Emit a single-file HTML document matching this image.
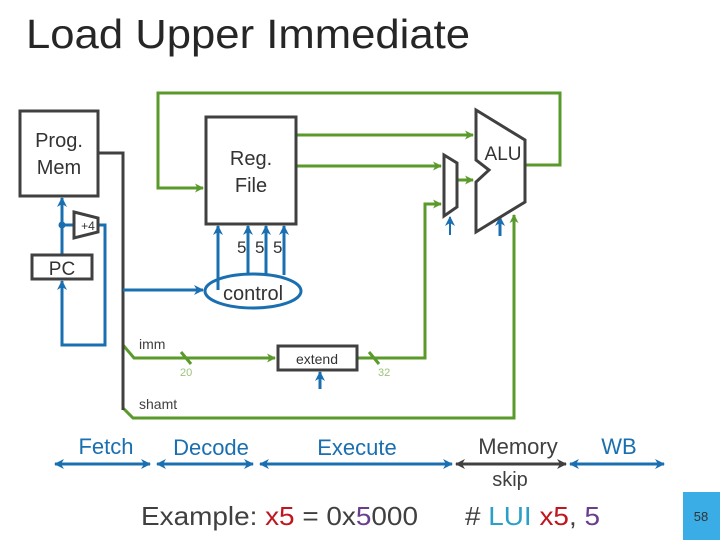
<!DOCTYPE html>
<html><head><meta charset="utf-8"><style>
html,body{margin:0;padding:0;background:#fff;}
svg{display:block;}
text{font-family:"Liberation Sans",Arial,sans-serif;}
</style></head><body>
<svg width="720" height="540" viewBox="0 0 720 540" xmlns="http://www.w3.org/2000/svg" font-family="Liberation Sans, Arial, sans-serif">
<defs>
<marker id="ga" markerWidth="9" markerHeight="9" refX="8" refY="4.5" orient="auto" markerUnits="userSpaceOnUse"><path d="M0,0 L9,4.5 L0,9 L2.5,4.5z" fill="#5a9a2a"/></marker>
<marker id="ba" markerWidth="10" markerHeight="10" refX="9" refY="5" orient="auto" markerUnits="userSpaceOnUse"><path d="M0,0 L10,5 L0,10 L3,5z" fill="#1a6fb0"/></marker>
<marker id="bs" markerWidth="10" markerHeight="10" refX="9" refY="5" orient="auto-start-reverse" markerUnits="userSpaceOnUse"><path d="M0,0 L10,5 L0,10 L3,5z" fill="#1a6fb0"/></marker>
<marker id="ds" markerWidth="10" markerHeight="10" refX="9" refY="5" orient="auto-start-reverse" markerUnits="userSpaceOnUse"><path d="M0,0 L10,5 L0,10 L3,5z" fill="#404040"/></marker>
</defs>
<text x="26" y="48" font-size="41" fill="#262626" textLength="444" lengthAdjust="spacingAndGlyphs">Load Upper Immediate</text>

<g stroke="#5a9a2a" stroke-width="3" fill="none">
<polyline points="525,165 560,165 560,93 158,93 158,188 203,188" marker-end="url(#ga)"/>
<polyline points="297,135 473,135" marker-end="url(#ga)"/>
<polyline points="297,166 441,166" marker-end="url(#ga)"/>
<polyline points="457,180 473,180" marker-end="url(#ga)"/>
<polyline points="357,358 425,358 425,204 441,204" marker-end="url(#ga)"/>
<polyline points="123,345 134,358 275,358" marker-end="url(#ga)"/>
<polyline points="123,408 133,418 514,418 514,215" marker-end="url(#ga)"/>
<line x1="181" y1="352" x2="191" y2="364"/>
<line x1="369" y1="352" x2="379" y2="364"/>
</g>
<text x="180" y="376" font-size="11" fill="#9cc27a">20</text>
<text x="378" y="376" font-size="11" fill="#9cc27a">32</text>
<text x="139" y="349" font-size="14" fill="#404040">imm</text>
<text x="139" y="409" font-size="14" fill="#404040">shamt</text>

<polyline points="99,153 123,153 123,410" stroke="#404040" stroke-width="3" fill="none"/>

<g stroke="#1a6fb0" stroke-width="3" fill="none">
<polyline points="62,255 62,198" marker-end="url(#ba)"/>
<line x1="62" y1="225" x2="74" y2="225"/>
<polyline points="98,225 105,225 105,345 62,345 62,281" marker-end="url(#ba)"/>
<polyline points="123,290 203,290" marker-end="url(#ba)"/>
<line x1="218" y1="290" x2="218" y2="226" marker-end="url(#ba)"/>
<line x1="248" y1="275" x2="248" y2="226" marker-end="url(#ba)"/>
<line x1="266" y1="275" x2="266" y2="226" marker-end="url(#ba)"/>
<line x1="284" y1="275" x2="284" y2="226" marker-end="url(#ba)"/>
<ellipse cx="253" cy="291" rx="48" ry="17"/>
<line x1="320" y1="389" x2="320" y2="372" marker-end="url(#ba)"/>
<line x1="450" y1="235" x2="450" y2="217" stroke-width="2" marker-end="url(#ba)"/>
<line x1="500" y1="236" x2="500" y2="217" marker-end="url(#ba)"/>
</g>
<circle cx="62" cy="225" r="3.5" fill="#1a6fb0"/>
<text x="253" y="300" font-size="20" fill="#333" text-anchor="middle">control</text>
<text x="237" y="253" font-size="17" fill="#333">5</text>
<text x="255" y="253" font-size="17" fill="#333">5</text>
<text x="273" y="253" font-size="17" fill="#333">5</text>

<g stroke="#404040" stroke-width="3" fill="#fff">
<rect x="20" y="111" width="78" height="85"/>
<rect x="206" y="117" width="90" height="107"/>
<rect x="32" y="255" width="60" height="24"/>
<rect x="278" y="346" width="79" height="24"/>
<polygon points="74,212 98,218 98,232 74,238"/>
<polygon points="444,155 457,163 457,207 444,216"/>
<polygon points="476,110 525,140 525,202 476,232 476,182 489,170 476,160"/>
</g>
<text x="59" y="147" font-size="20" fill="#333" text-anchor="middle">Prog.</text>
<text x="59" y="174" font-size="20" fill="#333" text-anchor="middle">Mem</text>
<text x="251" y="165" font-size="20" fill="#333" text-anchor="middle">Reg.</text>
<text x="251" y="192" font-size="20" fill="#333" text-anchor="middle">File</text>
<text x="62" y="275" font-size="19" fill="#333" text-anchor="middle">PC</text>
<text x="88" y="230" font-size="12" fill="#333" text-anchor="middle">+4</text>
<text x="317" y="364" font-size="14" fill="#333" text-anchor="middle">extend</text>
<text x="503" y="160" font-size="19" fill="#333" text-anchor="middle">ALU</text>

<g stroke-width="3">
<line x1="55" y1="464" x2="150" y2="464" stroke="#1a6fb0" marker-start="url(#bs)" marker-end="url(#bs)"/>
<line x1="157" y1="464" x2="253" y2="464" stroke="#1a6fb0" marker-start="url(#bs)" marker-end="url(#bs)"/>
<line x1="260" y1="464" x2="452" y2="464" stroke="#1a6fb0" marker-start="url(#bs)" marker-end="url(#bs)"/>
<line x1="456" y1="464" x2="566" y2="464" stroke="#404040" marker-start="url(#ds)" marker-end="url(#ds)"/>
<line x1="570" y1="464" x2="664" y2="464" stroke="#1a6fb0" marker-start="url(#bs)" marker-end="url(#bs)"/>
</g>
<g fill="#1a6fb0">
<text x="106" y="454" text-anchor="middle" font-size="22">Fetch</text>
<text x="211" y="455" text-anchor="middle" font-size="22">Decode</text>
<text x="357" y="455" text-anchor="middle" font-size="22">Execute</text>
<text x="518" y="454" text-anchor="middle" font-size="22" fill="#404040">Memory</text>
<text x="619" y="454" text-anchor="middle" font-size="22">WB</text>
<text x="510" y="486" text-anchor="middle" font-size="20" fill="#404040">skip</text>
</g>
<text x="141" y="525" font-size="26" fill="#404040" textLength="277" lengthAdjust="spacingAndGlyphs">Example: <tspan fill="#c0161e">x5</tspan> = 0x<tspan fill="#6a3d8e">5</tspan>000</text>
<text x="465" y="525" font-size="26" fill="#404040" textLength="135" lengthAdjust="spacingAndGlyphs"># <tspan fill="#2aa0c8">LUI</tspan> <tspan fill="#c0161e">x5</tspan>, <tspan fill="#6a3d8e">5</tspan></text>
<rect x="683" y="492" width="37" height="48" fill="#3aace6"/>
<text x="701" y="521" font-size="13" fill="#333" text-anchor="middle">58</text>
</svg>
</body></html>
